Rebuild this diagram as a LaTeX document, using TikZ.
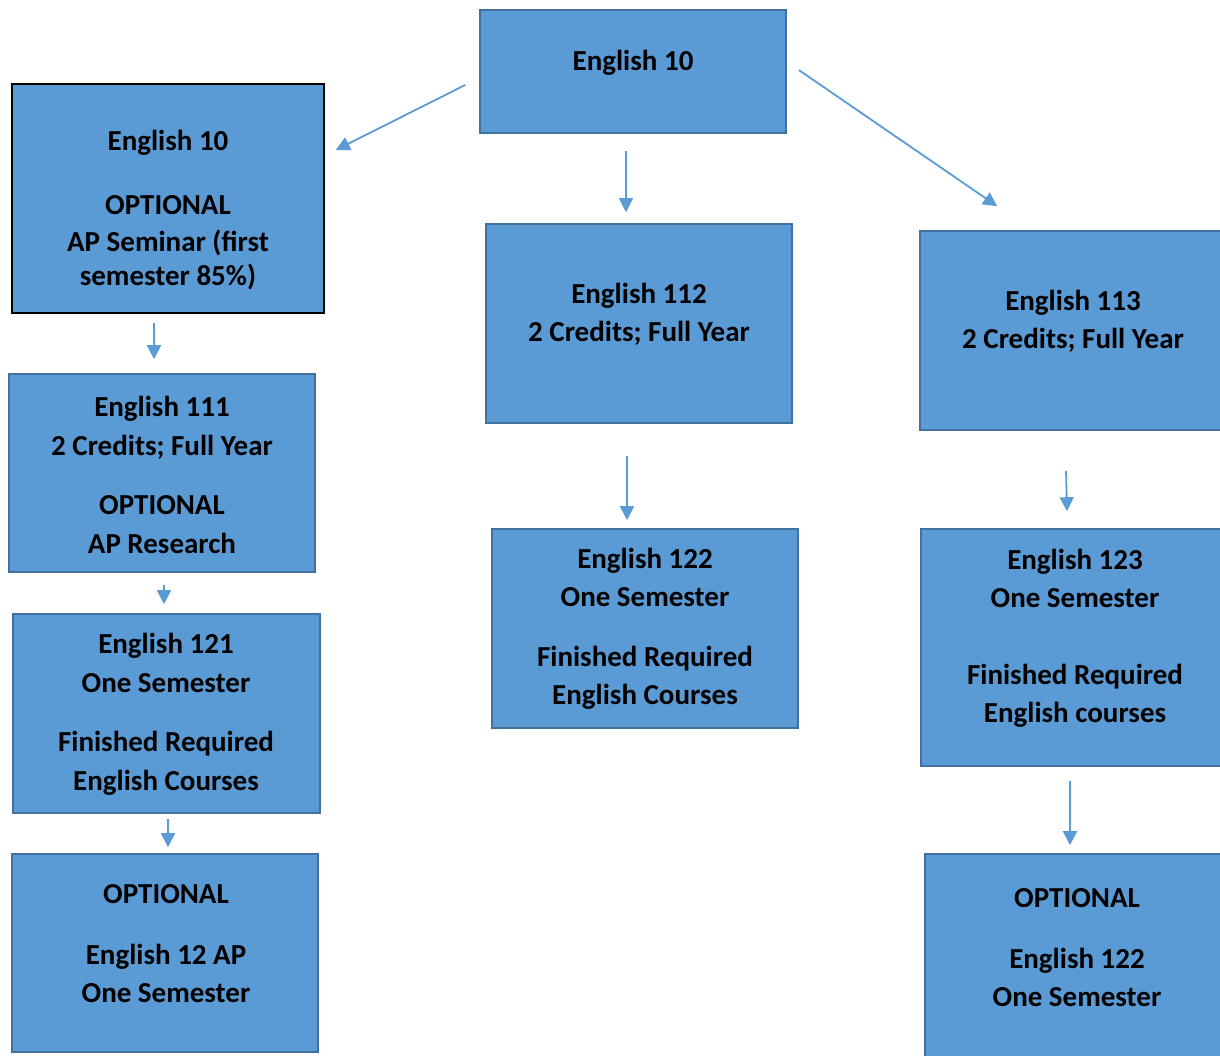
\documentclass[tikz,border=0pt]{standalone}
\usepackage{fontspec}
\setmainfont{Carlito}
\usetikzlibrary{arrows.meta}

\definecolor{boxblue}{RGB}{91,155,213}
\definecolor{boxedge}{RGB}{65,113,156}

\tikzset{
  course/.style={rectangle, draw=boxedge, fill=boxblue, line width=1.6pt, inner sep=0pt},
  txt/.style={align=center, font=\fontsize{29}{38.5}\selectfont\bfseries, inner sep=0pt, yshift=-2pt},
  link/.style={draw=boxblue, line width=1.8pt, -{Triangle[length=14pt,width=14pt]}}
}

\begin{document}
\begin{tikzpicture}[x=1pt, y=-1pt]
   \useasboundingbox (0,0) rectangle (1220,1055);
   % boxes
   \node[course, minimum width=306pt, minimum height=123pt] (top) at (633,71.5) {};
   \node[course, draw=black, minimum width=312pt, minimum height=229pt] (l1) at (168,198.5) {};
   \node[course, minimum width=306pt, minimum height=198pt] (l2) at (162,473) {};
   \node[course, minimum width=307pt, minimum height=199pt] (l3) at (166.5,713.5) {};
   \node[course, minimum width=306pt, minimum height=198pt] (l4) at (165,953) {};
   \node[course, minimum width=306pt, minimum height=199pt] (m1) at (639,323.5) {};
   \node[course, minimum width=306pt, minimum height=199pt] (m2) at (645,628.5) {};
   \node[course, minimum width=306pt, minimum height=199pt] (r1) at (1073,330.5) {};
   \node[course, minimum width=305pt, minimum height=237pt] (r2) at (1073.5,647.5) {};
   \node[course, minimum width=306pt, minimum height=206pt] (r3) at (1078,957) {};
   % texts
   \node[txt] (top-t) at (633,61) {English 10};
   \node[txt] (l1-t) at (168,208) {English 10\\[26pt] OPTIONAL\\[-2pt] AP Seminar (first\\[-4pt] semester 85\%)};
   \node[txt] (l2-t) at (162,473) {English 111\\ 2 Credits; Full Year\\[21pt] OPTIONAL\\ AP Research};
   \node[txt] (l3-t) at (166,712.5) {English 121\\ One Semester\\[21pt] Finished Required\\ English Courses};
   \node[txt] (l4-t) at (166,942) {OPTIONAL\\[22pt] English 12 AP\\ One Semester};
   \node[txt] (m1-t) at (639,312.5) {English 112\\ 2 Credits; Full Year};
   \node[txt] (m2-t) at (645,627) {English 122\\ One Semester\\[21pt] Finished Required\\ English Courses};
   \node[txt] (r1-t) at (1073,319.5) {English 113\\ 2 Credits; Full Year};
   \node[txt] (r2-t) at (1075,636.5) {English 123\\ One Semester\\[38pt] Finished Required\\ English courses};
   \node[txt] (r3-t) at (1077,946) {OPTIONAL\\[22pt] English 122\\ One Semester};
   % arrows
   \draw[link] ([xshift=-14pt,yshift=-13.5pt]top.west) -- ([xshift=11pt,yshift=48.5pt]l1.east);
   \draw[link] ([xshift=-7pt,yshift=-17pt]top.south) -- ([xshift=-13pt,yshift=11pt]m1.north);
   \draw[link] ([xshift=12pt,yshift=1.5pt]top.east) -- ([xshift=78pt,yshift=24pt]r1.north west);
   \draw[link] ([xshift=-14pt,yshift=-9pt]l1.south) -- ([xshift=-8pt,yshift=14pt]l2.north);
   \draw[link] ([xshift=2pt,yshift=-12pt]l2.south) -- ([xshift=-2.5pt,yshift=9pt]l3.north);
   \draw[link] ([xshift=1.5pt,yshift=-5pt]l3.south) -- ([xshift=3pt,yshift=6pt]l4.north);
   \draw[link] ([xshift=-12pt,yshift=-32pt]m1.south) -- ([xshift=-18pt,yshift=8pt]m2.north);
   \draw[link] ([xshift=-7pt,yshift=-40pt]r1.south) -- ([xshift=-6.5pt,yshift=17pt]r2.north);
   \draw[link] ([xshift=-3.5pt,yshift=-14pt]r2.south) -- ([xshift=-8pt,yshift=8pt]r3.north);
\end{tikzpicture}
\end{document}
